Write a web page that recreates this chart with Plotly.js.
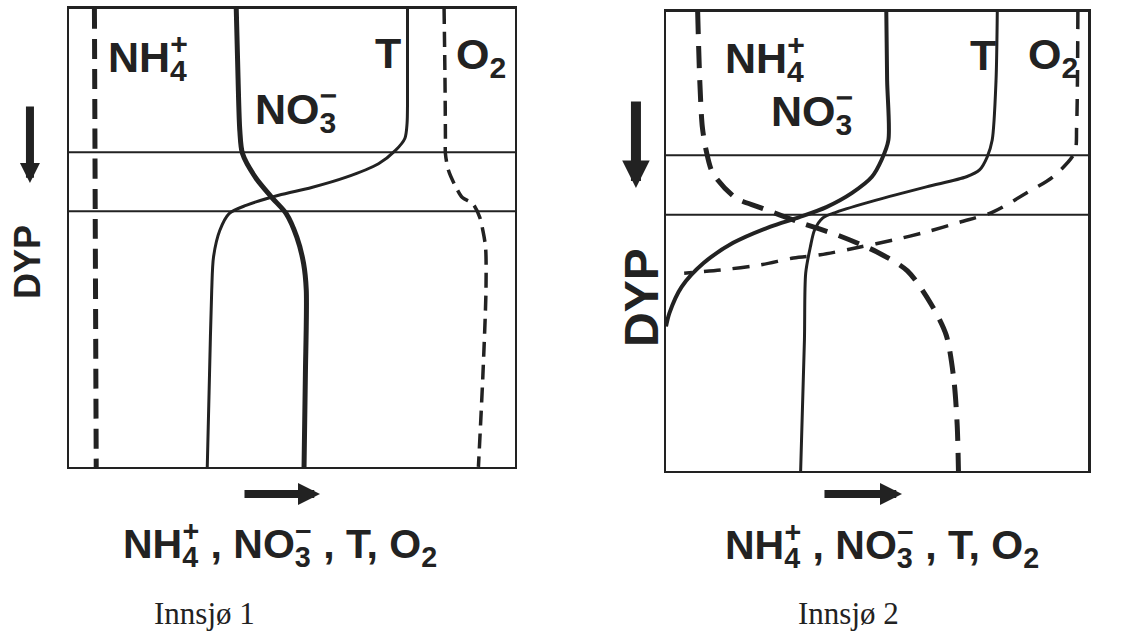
<!DOCTYPE html>
<html>
<head>
<meta charset="utf-8">
<script src="https://cdn.plot.ly/plotly-3.0.1.min.js"></script>
<style>
  html, body { margin: 0; padding: 0; background: #fff; }
  #chart { width: 1122px; height: 631px; }
</style>
</head>
<body>
<div id="chart"></div>
<script>
// Innsjø 1 (depth 0 = surface, 100 = bottom; values in relative units 0-100)
const nh4DepthA = [0, 25, 50, 75, 100];
const nh4A = [5.7, 5.8, 5.9, 6.0, 6.1];
const no3DepthA = [0, 15, 26.6, 31.6, 36.8, 41.2, 44.7, 49.9, 55.6, 61.4, 80, 100];
const no3A = [37.5, 37.9, 38.3, 38.9, 41.8, 45.5, 48.7, 51.1, 52.6, 53.2, 53.0, 52.7];
const tDepthA = [0, 15, 25, 28.3, 30.9, 33.8, 36.8, 39, 40.7, 42.9, 44.7, 48.4, 54.2, 61.4, 80, 100];
const tA = [75.9, 75.9, 75.8, 75.3, 73.2, 69.4, 62, 54.4, 47, 39.7, 35.9, 33.8, 32.4, 32, 31.5, 31];
const o2DepthA = [0, 15, 28, 31.6, 35.3, 39, 41.2, 42.5, 45.5, 48.4, 52, 61, 80, 100];
const o2A = [84.1, 84.3, 84.4, 84.4, 85.1, 86.8, 88.2, 90.5, 92.1, 92.8, 93.4, 93.5, 92.8, 91.8];
const layersA = [31.3, 44.2];

// Innsjø 2
const nh4DepthB = [0, 15, 25, 30.1, 35.1, 40.5, 42.5, 45.8, 48.8, 52.3, 56.4, 63.6, 70.4, 80, 90, 100];
const nh4B = [7.5, 8.0, 8.6, 9.5, 11.1, 16.5, 22, 31.6, 41.2, 50, 57.2, 62.8, 66.4, 68.2, 69, 69.3];
const no3DepthB = [0, 15, 27.9, 32.2, 35.9, 39.4, 42.5, 44.7, 46.8, 50.3, 54.7, 59.9, 65.6, 68.5];
const no3B = [52.2, 52.4, 52.7, 51.1, 48.8, 44.1, 38.0, 31.6, 24.6, 15.9, 8.9, 3.7, 0.8, 0];
const tDepthB = [0, 15, 27.9, 31.6, 34.4, 35.9, 38.1, 41, 43.6, 44.9, 47.5, 51.2, 56.9, 71.5, 100];
const tB = [78.5, 78.2, 77.3, 76.1, 74.3, 71.2, 61.7, 49.8, 40.4, 37.1, 35.2, 34.2, 33.1, 32.8, 31.9];
const o2DepthB = [0, 15, 25, 30.7, 35.9, 39.4, 43.6, 45.8, 47.9, 49.7, 51.2, 52.9, 53.6, 55.1, 56.2, 56.9];
const o2B = [97.6, 97.5, 97.3, 96.8, 91.7, 85.5, 77.4, 69.6, 61.8, 53.8, 46, 36.6, 30.2, 22.4, 13, 4.3];
const layersB = [31.2, 44.2];

const ink = '#222';
const boldFont = 'Liberation Sans, Arial, sans-serif';
const serifFont = 'Liberation Serif, Times New Roman, serif';

// sub- and superscript stacked over each other, as in the drawing
const labelNh4 = 'NH<sub><span style="letter-spacing:-0.55em">4</span></sub><sup>+</sup>';
const labelNo3 = 'NO<sub><span style="letter-spacing:-0.55em">3</span></sub><sup>\u2212</sup>';
const labelO2 = 'O<sub>2</sub>';

function curve(depth, values, axis, width, dash) {
    return {
        x: values,
        y: depth,
        xaxis: axis === 1 ? 'x' : 'x2',
        yaxis: axis === 1 ? 'y' : 'y2',
        type: 'scatter',
        mode: 'lines',
        line: { color: ink, width: width, dash: dash, shape: 'spline', smoothing: 0.8 },
        hoverinfo: 'skip'
    };
}

const traces = [
    curve(nh4DepthA, nh4A, 1, 5, '20px,10px'),
    curve(no3DepthA, no3A, 1, 5, 'solid'),
    curve(tDepthA, tA, 1, 3, 'solid'),
    curve(o2DepthA, o2A, 1, 3.5, '15px,8px'),
    curve(nh4DepthB, nh4B, 2, 5, '22px,12px'),
    curve(no3DepthB, no3B, 2, 4, 'solid'),
    curve(tDepthB, tB, 2, 3, 'solid'),
    curve(o2DepthB, o2B, 2, 3.5, '17px,12px')
];

function frameAxis(domain, anchor, range) {
    return {
        domain: domain,
        anchor: anchor,
        range: range,
        showline: true,
        mirror: true,
        linewidth: 2.5,
        linecolor: ink,
        showgrid: false,
        zeroline: false,
        showticklabels: false,
        ticks: '',
        fixedrange: true
    };
}

const shapes = [];
layersA.forEach(d => shapes.push({
    type: 'line', xref: 'x domain', yref: 'y', x0: 0, x1: 1, y0: d, y1: d,
    line: { color: ink, width: 2 }
}));
layersB.forEach(d => shapes.push({
    type: 'line', xref: 'x2 domain', yref: 'y2', x0: 0, x1: 1, y0: d, y1: d,
    line: { color: ink, width: 2 }
}));

function inLabel(text, axis, x, y) {
    return {
        text: text,
        xref: axis === 1 ? 'x' : 'x2',
        yref: axis === 1 ? 'y' : 'y2',
        x: x, y: y,
        xanchor: 'left', yanchor: 'middle',
        showarrow: false,
        font: { family: boldFont, size: 43, color: ink, weight: 700 }
    };
}

function paperText(text, x, y, size, family, weight, angle) {
    return {
        text: text,
        xref: 'paper', yref: 'paper',
        x: x, y: y,
        xanchor: 'center', yanchor: 'middle',
        showarrow: false,
        textangle: angle || 0,
        font: { family: family, size: size, color: ink, weight: weight }
    };
}

function arrow(x, y, ax, ay, width, size) {
    return {
        text: '',
        xref: 'paper', yref: 'paper',
        x: x, y: y, ax: ax, ay: ay,
        showarrow: true,
        arrowhead: 2,
        arrowwidth: width,
        arrowsize: size,
        arrowcolor: ink,
        standoff: 0
    };
}

const bottomLabel = labelNh4 + ' , ' + labelNo3 + ' , T, ' + labelO2;

const annotations = [
    inLabel(labelNh4, 1, 8.4, 10.5),
    inLabel(labelNo3, 1, 41.3, 21.8),
    inLabel('T', 1, 68.2, 9.7),
    inLabel(labelO2, 1, 86.4, 10.5),
    inLabel(labelNh4, 2, 13.4, 10),
    inLabel(labelNo3, 2, 24.3, 21.6),
    inLabel('T', 2, 71.6, 9.4),
    inLabel(labelO2, 2, 85.2, 9.9),

    paperText(bottomLabel, 0.2496, 0.1378, 41, boldFont, 700),
    paperText(bottomLabel, 0.7860, 0.1363, 41, boldFont, 700),
    paperText('Innsjø 1', 0.1827, 0.0270, 31, serifFont, 400),
    paperText('Innsjø 2', 0.7558, 0.0270, 31, serifFont, 400),
    paperText('DYP', 0.025, 0.585, 36, boldFont, 700, -90),
    paperText('DYP', 0.5713, 0.5293, 48, boldFont, 700, -90),

    arrow(0.0267, 0.71, 0, -78, 8, 0.5),
    arrow(0.5668, 0.702, 0, -88, 10, 0.55),
    arrow(0.2852, 0.2171, -77, 0, 8, 0.55),
    arrow(0.8039, 0.2171, -79, 0, 8, 0.55)
];

const layout = {
    width: 1122,
    height: 631,
    margin: { l: 0, r: 0, t: 0, b: 0 },
    showlegend: false,
    xaxis: frameAxis([0.0615, 0.459], 'y', [0, 100]),
    yaxis: frameAxis([0.26, 0.986], 'x', [100, 0]),
    xaxis2: frameAxis([0.5936, 0.9697], 'y2', [0, 100]),
    yaxis2: frameAxis([0.2536, 0.981], 'x2', [100, 0]),
    shapes: shapes,
    annotations: annotations,
    paper_bgcolor: '#fff',
    plot_bgcolor: '#fff'
};

Plotly.newPlot('chart', traces, layout, { displayModeBar: false, staticPlot: true });
</script>
</body>
</html>
